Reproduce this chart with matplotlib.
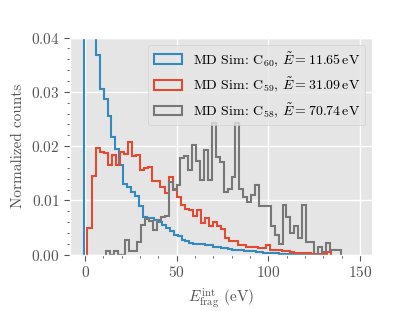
import numpy as np
import matplotlib
matplotlib.use("Agg")
import matplotlib.pyplot as plt
from matplotlib.ticker import MultipleLocator

plt.style.use('ggplot')
plt.rcParams['font.family'] = 'serif'
plt.rcParams['font.serif'] = ['cmr10']
plt.rcParams['mathtext.fontset'] = 'cm'
plt.rcParams['axes.formatter.use_mathtext'] = True

# bin ranges (eV) of the three histograms, 60 bins each
c60_range = (-0.55, 127.1)
c59_range = (1.25, 134.1)
c58_range = (11.3, 139.9)

c60_counts = [0.12, 0.08, 0.05, 0.0368, 0.0305, 0.0286, 0.0255, 0.0217, 0.0194, 0.0165,
              0.0131, 0.0125, 0.0116, 0.0108, 0.0090, 0.0070, 0.0068, 0.0067, 0.0064, 0.0060,
              0.0055, 0.0049, 0.0043, 0.0037, 0.0034, 0.0028, 0.0025, 0.0022, 0.0020, 0.0019,
              0.0019, 0.0017, 0.0017, 0.0015, 0.0014, 0.0013, 0.0012, 0.0010, 0.0009, 0.0009,
              0.0008, 0.0007, 0.0006, 0.0006, 0.0005, 0.0005, 0.0004, 0.0004, 0.0003, 0.0003,
              0.0002, 0.0002, 0.0002, 0.0001, 0.0001, 0.0001, 0.0001, 0.0, 0.0, 0.0001]

c59_counts = [0.0049, 0.0145, 0.0197, 0.0190, 0.0187, 0.0165, 0.0184, 0.0165, 0.0190, 0.0186,
              0.0207, 0.0182, 0.0184, 0.0156, 0.0160, 0.0162, 0.0136, 0.0135, 0.0125, 0.0113,
              0.0144, 0.0122, 0.0106, 0.0092, 0.0085, 0.0083, 0.0072, 0.0082, 0.0058, 0.0067,
              0.0052, 0.0061, 0.0052, 0.0047, 0.0030, 0.0026, 0.0026, 0.0018, 0.0018, 0.0015,
              0.0015, 0.0014, 0.0012, 0.0012, 0.0018, 0.0009, 0.0009, 0.0008, 0.0006, 0.0007,
              0.0005, 0.0004, 0.0004, 0.0003, 0.0004, 0.0002, 0.0002, 0.0002, 0.0001, 0.0005]

c58_counts = [0.0007, 0.0, 0.0007, 0.0, 0.0, 0.0028, 0.0007, 0.0007, 0.0024, 0.0055,
              0.0066, 0.0062, 0.0045, 0.0064, 0.0070, 0.0072, 0.0134, 0.0120, 0.0128, 0.0178,
              0.0182, 0.0156, 0.0202, 0.0172, 0.0138, 0.0193, 0.0138, 0.0243, 0.0180, 0.0171,
              0.0116, 0.0122, 0.0144, 0.0243, 0.0122, 0.0107, 0.0098, 0.0110, 0.0128, 0.0090,
              0.0090, 0.0090, 0.0052, 0.0036, 0.0020, 0.0092, 0.0070, 0.0040, 0.0052, 0.0030,
              0.0092, 0.0024, 0.0024, 0.0, 0.0015, 0.0005, 0.0022, 0.0009, 0.0009, 0.0009]

labels = [r'MD Sim: $\mathrm{C}_{60}$, $\tilde{E} = 11.65\,\mathrm{eV}$',
          r'MD Sim: $\mathrm{C}_{59}$, $\tilde{E} = 31.09\,\mathrm{eV}$',
          r'MD Sim: $\mathrm{C}_{58}$, $\tilde{E} = 70.74\,\mathrm{eV}$']
colors = ['#348ABD', '#E24A33', '#777777']

fig = plt.figure(figsize=(4.15, 3.11), dpi=100)
ax = fig.add_axes([0.169, 0.181, 0.728, 0.698])

for rng, counts, lab, col in zip([c60_range, c59_range, c58_range],
                                 [c60_counts, c59_counts, c58_counts], labels, colors):
    edges = np.linspace(rng[0], rng[1], len(counts) + 1)
    ax.hist(edges[:-1], bins=edges, weights=counts, histtype='step',
            color=col, linewidth=1.5, label=lab)

ax.set_xlim(-8.2, 156.7)
ax.set_ylim(0, 0.04)
ax.xaxis.set_major_locator(MultipleLocator(50))
ax.xaxis.set_minor_locator(MultipleLocator(10))
ax.yaxis.set_major_locator(MultipleLocator(0.01))
ax.yaxis.set_minor_locator(MultipleLocator(0.002))
ax.grid(True, which='major', color='white', linewidth=1.0)
ax.grid(False, which='minor')
ax.tick_params(which='major', labelsize=11, length=4, color='#555555')
ax.tick_params(which='minor', length=2, color='#555555')

ax.set_xlabel(r'$E_{\mathrm{frag}}^{\mathrm{int}}$ (eV)', fontsize=11)
ax.set_ylabel('Normalized counts', fontsize=11)
ax.legend(loc='upper right', fontsize=10)

plt.savefig("out.png", dpi=100)
